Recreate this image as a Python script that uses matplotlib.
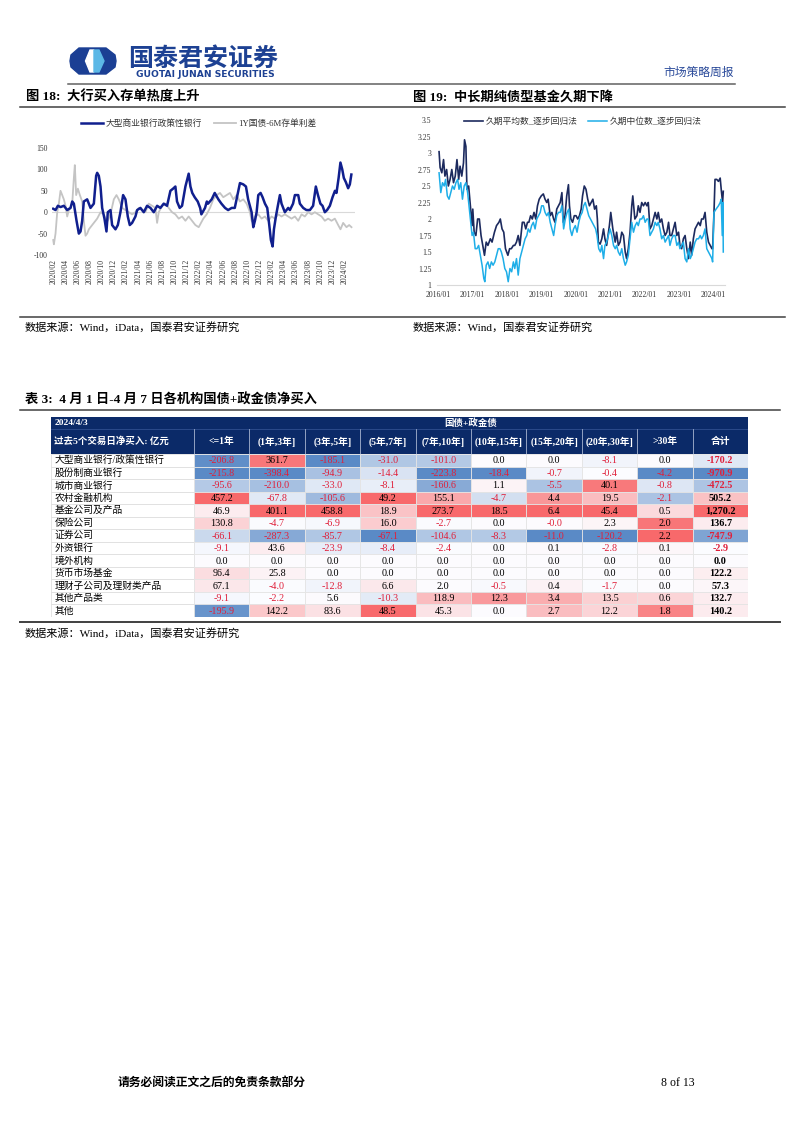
import numpy as np
import matplotlib
matplotlib.use("Agg")
import matplotlib.pyplot as plt
from matplotlib.patches import Rectangle, Polygon
from matplotlib.colors import LinearSegmentedColormap, TwoSlopeNorm
from matplotlib.ticker import FuncFormatter

W, H = 802, 1133
FONT = ["Liberation Serif", "Noto Sans CJK SC"]
plt.rcParams["font.family"] = FONT
plt.rcParams["axes.unicode_minus"] = False

# ---------------- chart 18 data (months since 2020/02) ----------------
big_bank_m = [0, 0.38, 0.77, 1.2, 1.75, 2.3, 2.85, 3.13, 3.4, 3.84, 4.22, 4.5, 4.77, 5.04, 5.59,
              6.14, 6.69, 7.07, 7.24, 7.51, 7.79, 8.06, 8.44, 8.77, 8.99, 9.43, 9.7, 10.25, 10.64,
              11.07, 11.51, 11.9, 12.28, 12.61, 12.99, 13.54, 13.82, 14.36, 14.91, 15.46, 16.01,
              16.56, 17.11, 17.65, 18.2, 18.75, 19.3, 19.74, 20.12, 20.39, 20.83, 21.22, 21.77,
              22.31, 22.6, 22.9, 23.3, 23.8, 24.2, 24.4, 25.0, 25.3, 25.5, 26.1, 26.6, 27.2, 27.7,
              28.3, 28.8, 29.4, 29.9, 30.75, 31.3, 31.74, 32.1, 32.67, 32.95, 33.22, 33.5, 33.77,
              34.15, 34.48, 34.87, 35.25, 35.58, 35.85, 36.13, 36.35, 36.67, 37.06, 37.33, 37.6,
              38.15, 38.7, 38.98, 39.5, 39.8, 40.35, 40.62, 41.17, 41.7, 42.27, 42.8, 43.25, 43.6,
              44.0, 44.35, 44.73, 45.1, 45.56, 46.0, 46.4, 46.65, 47.0, 47.3, 47.6, 47.86, 48.2,
              48.57, 48.85, 49.1]
big_bank_v = [8, 5, 15, 12, 15, 5, 10, 25, 20, -20, -50, -45, -20, 25, 30, 10, 20, 85, 92, 85, 60,
              10, -15, -45, 0, 5, -30, -40, -30, 0, 40, 30, -10, -30, -25, -10, 5, 10, 0, 15, 10,
              0, 15, 10, 20, 15, 50, 55, 60, 25, 10, 15, 60, 90, 60, 45, 35, 25, 10, -5, 10, 25,
              20, 30, 45, 30, 20, 10, 5, 10, 10, 68, 65, 60, 30, 0, -35, -20, 0, 40, 45, 35, 20,
              10, -30, -65, -80, -40, -10, 20, 40, 20, 0, 10, 5, 20, 40, 40, 20, 10, 5, 5, 15, 60,
              40, 20, 15, 0, 5, 15, 35, 50, 45, 80, 116, 100, 80, 70, 56, 65, 88]
spread_m = [0, 0.11, 0.38, 0.66, 0.93, 1.2, 1.48, 1.75, 2.03, 2.3, 2.58, 2.85, 3.13, 3.4, 3.56,
            3.78, 4.06, 4.39, 4.77, 5.04, 5.32, 5.59, 5.87, 6.14, 6.69, 7.24, 7.79, 8.33, 8.61,
            8.99, 9.43, 9.98, 10.42, 10.8, 11.35, 11.9, 12.45, 12.99, 13.54, 14.09, 14.64, 15.19,
            15.73, 16.28, 16.83, 17.11, 17.38, 17.93, 18.48, 19.02, 19.57, 20.12, 20.67, 21.22,
            21.77, 22.31, 22.86, 23.41, 23.96, 24.72, 25.27, 25.82, 26.37, 26.92, 27.46, 28.01,
            28.56, 29.11, 29.66, 30.21, 30.75, 31.3, 31.85, 32.4, 32.67, 32.95, 33.22, 33.77,
            34.32, 34.87, 35.41, 35.96, 36.51, 37.06, 37.6, 38.15, 38.7, 39.25, 39.8, 40.35,
            40.9, 41.44, 41.99, 42.54, 43.09, 43.64, 44.19, 44.73, 45.28, 45.83, 46.38, 46.93,
            47.31, 47.75, 48.3, 48.74, 49.12]
spread_v = [-65, -75, -50, 0, 20, 50, 40, 30, 15, -10, 5, 10, 20, 80, 110, 40, 55, 40, 25, -20,
            -55, -50, -40, -35, -25, -15, 0, -5, -15, -20, -5, 30, 40, 30, 10, 5, 0, -5, 0, 10, 5,
            0, 20, 15, 10, -25, 0, 15, 20, 10, 0, -5, -15, -10, -20, -10, -20, -30, -35, -15, -5,
            10, 30, 40, 45, 35, 40, 45, 30, 40, 25, 30, 20, 0, -20, -25, -10, -5, -15, -10, -20,
            -10, -15, -5, -10, -5, -10, -15, -10, -20, -5, -10, 0, -5, 0, -5, -10, -20, -15, -20,
            -15, -30, -40, -25, -35, -30, -35]
month_ticks = ["2020/02", "2020/04", "2020/06", "2020/08", "2020/10", "2020/12", "2021/02",
               "2021/04", "2021/06", "2021/08", "2021/10", "2021/12", "2022/02", "2022/04",
               "2022/06", "2022/08", "2022/10", "2022/12", "2023/02", "2023/04", "2023/06",
               "2023/08", "2023/10", "2023/12", "2024/02"]

# ---------------- chart 19 data (decimal years) ----------------
mean_t = [2016.03, 2016.06, 2016.11, 2016.16, 2016.20, 2016.25, 2016.30, 2016.35, 2016.40,
          2016.45, 2016.50, 2016.55, 2016.60, 2016.64, 2016.69, 2016.74, 2016.77, 2016.81,
          2016.84, 2016.89, 2016.94, 2016.99, 2017.01, 2017.05, 2017.10, 2017.15, 2017.20,
          2017.25, 2017.30, 2017.35, 2017.40, 2017.45, 2017.52, 2017.57, 2017.64, 2017.70,
          2017.77, 2017.81, 2017.86, 2017.91, 2017.96, 2018.03, 2018.08, 2018.13, 2018.19,
          2018.23, 2018.28, 2018.33, 2018.38, 2018.45, 2018.50, 2018.55, 2018.60, 2018.64,
          2018.69, 2018.74, 2018.79, 2018.84, 2018.89, 2018.94, 2019.00, 2019.06, 2019.11,
          2019.16, 2019.20, 2019.26, 2019.31, 2019.36, 2019.40, 2019.45, 2019.50, 2019.55,
          2019.60, 2019.64, 2019.69, 2019.74, 2019.79, 2019.82, 2019.86, 2019.91, 2019.96,
          2020.01, 2020.06, 2020.11, 2020.16, 2020.20, 2020.25, 2020.30, 2020.35, 2020.40,
          2020.45, 2020.50, 2020.55, 2020.60, 2020.63, 2020.66, 2020.71, 2020.76, 2020.81,
          2020.85, 2020.90, 2020.98, 2021.02, 2021.08, 2021.15, 2021.19, 2021.24, 2021.29,
          2021.34, 2021.39, 2021.44, 2021.48, 2021.53, 2021.58, 2021.63, 2021.66, 2021.72,
          2021.78, 2021.82, 2021.87, 2021.92, 2021.97, 2022.02, 2022.07, 2022.11, 2022.16,
          2022.21, 2022.26, 2022.31, 2022.36, 2022.40, 2022.45, 2022.50, 2022.55, 2022.60,
          2022.65, 2022.70, 2022.74, 2022.79, 2022.84, 2022.89, 2022.94, 2022.99, 2023.03,
          2023.08, 2023.13, 2023.18, 2023.23, 2023.28, 2023.33, 2023.37, 2023.42, 2023.47,
          2023.52, 2023.57, 2023.62, 2023.66, 2023.71, 2023.76, 2023.81, 2023.86, 2023.91,
          2023.96, 2023.98, 2024.02, 2024.05, 2024.10, 2024.15, 2024.20, 2024.23, 2024.27,
          2024.29]
mean_v = [3.02, 2.78, 2.7, 2.9, 2.65, 2.75, 2.5, 2.6, 2.75, 2.55, 2.65, 2.9, 2.6, 2.8, 2.65,
          2.85, 3.2, 3.1, 2.45, 2.5, 2.2, 1.9, 2.15, 1.8, 1.75, 2.0, 2.0, 1.75, 1.6, 1.45, 1.65,
          1.6, 1.7, 1.65, 1.8, 1.9, 1.95, 2.0, 1.85, 1.8, 1.55, 1.45, 1.55, 1.55, 1.6, 1.6, 1.65,
          1.75, 1.6, 1.95, 1.95, 1.85, 1.95, 1.95, 2.05, 2.0, 2.1, 2.0, 2.2, 2.3, 2.35, 2.38,
          2.3, 2.25, 2.3, 2.05, 2.1, 2.0, 1.95, 2.15, 2.2, 2.25, 2.4, 1.95, 2.05, 2.35, 2.52,
          2.2, 2.0, 1.95, 2.05, 2.05, 2.0, 2.05, 2.15, 2.35, 2.5, 2.45, 2.3, 2.2, 2.25, 2.3,
          2.15, 2.2, 2.0, 1.65, 1.62, 1.7, 1.85, 1.7, 1.6, 1.9, 2.1, 1.85, 1.65, 1.8, 1.6, 1.65,
          1.8, 1.75, 1.5, 1.4, 1.55, 1.8, 2.2, 2.35, 2.0, 2.05, 2.2, 2.1, 2.25, 2.2, 2.25, 2.2,
          2.25, 1.85, 1.9, 2.0, 2.1, 2.0, 2.1, 1.95, 2.0, 1.85, 1.75, 1.8, 1.95, 1.75, 1.75,
          1.85, 1.95, 1.75, 1.8, 1.6, 1.55, 1.7, 1.75, 1.55, 1.4, 1.65, 1.45, 1.7, 1.85, 1.9,
          1.95, 1.9, 2.0, 2.0, 2.1, 1.8, 1.65, 1.6, 1.55, 1.55, 2.1, 2.6, 2.6, 2.57, 2.62, 2.45,
          2.25, 2.42]
median_t = [2016.03, 2016.08, 2016.13, 2016.18, 2016.22, 2016.27, 2016.32, 2016.37, 2016.42,
            2016.47, 2016.52, 2016.57, 2016.61, 2016.66, 2016.71, 2016.76, 2016.81, 2016.86,
            2016.91, 2016.96, 2016.99, 2017.03, 2017.08, 2017.13, 2017.18, 2017.23, 2017.28,
            2017.33, 2017.36, 2017.40, 2017.45, 2017.50, 2017.55, 2017.60, 2017.65, 2017.70,
            2017.75, 2017.80, 2017.84, 2017.89, 2017.94, 2017.99, 2018.04, 2018.09, 2018.14,
            2018.19, 2018.23, 2018.28, 2018.33, 2018.38, 2018.43, 2018.48, 2018.53, 2018.58,
            2018.62, 2018.67, 2018.72, 2018.77, 2018.82, 2018.87, 2018.92, 2018.97, 2019.01,
            2019.06, 2019.11, 2019.16, 2019.21, 2019.26, 2019.31, 2019.36, 2019.40, 2019.45,
            2019.50, 2019.55, 2019.60, 2019.65, 2019.70, 2019.75, 2019.80, 2019.84, 2019.89,
            2019.94, 2019.99, 2020.04, 2020.09, 2020.14, 2020.19, 2020.23, 2020.28, 2020.33,
            2020.38, 2020.43, 2020.48, 2020.53, 2020.58, 2020.62, 2020.67, 2020.72, 2020.76,
            2020.81, 2020.85, 2020.90, 2020.95, 2021.00, 2021.05, 2021.10, 2021.15, 2021.19,
            2021.24, 2021.29, 2021.34, 2021.39, 2021.44, 2021.48, 2021.53, 2021.58, 2021.63,
            2021.68, 2021.73, 2021.78, 2021.82, 2021.87, 2021.92, 2021.97, 2022.02, 2022.07,
            2022.11, 2022.16, 2022.21, 2022.26, 2022.31, 2022.36, 2022.40, 2022.45, 2022.50,
            2022.55, 2022.60, 2022.65, 2022.70, 2022.74, 2022.79, 2022.84, 2022.89, 2022.94,
            2022.99, 2023.03, 2023.08, 2023.13, 2023.18, 2023.23, 2023.28, 2023.33, 2023.37,
            2023.42, 2023.47, 2023.52, 2023.57, 2023.62, 2023.66, 2023.71, 2023.76, 2023.81,
            2023.86, 2023.91, 2023.96, 2023.98, 2024.02, 2024.08, 2024.15, 2024.20, 2024.23,
            2024.26, 2024.28, 2024.29]
median_v = [2.7, 2.4, 2.55, 2.5, 2.6, 2.35, 2.3, 2.4, 2.5, 2.45, 2.55, 2.6, 2.45, 2.55, 2.3,
            2.5, 2.55, 2.4, 2.15, 1.9, 1.75, 1.8, 1.55, 1.55, 1.6, 1.45, 1.3, 1.1, 1.05, 1.3,
            1.35, 1.25, 1.35, 1.3, 1.35, 1.45, 1.55, 1.55, 1.5, 1.4, 1.25, 1.2, 1.05, 1.25, 1.2,
            1.35, 1.25, 1.4, 1.15, 1.4, 1.5, 1.6, 1.7, 1.75, 1.85, 1.8, 1.9, 1.95, 1.85, 2.0,
            2.05, 2.1, 2.2, 2.2, 2.1, 2.05, 2.1, 1.95, 1.85, 1.75, 1.9, 2.05, 2.1, 2.1, 2.2,
            1.85, 2.0, 2.1, 2.15, 1.85, 1.75, 1.85, 1.9, 1.8, 1.95, 2.05, 2.1, 2.2, 2.25, 2.15,
            2.05, 2.0, 1.95, 1.9, 1.85, 1.75, 1.55, 1.5, 1.6, 1.4, 1.6, 1.65, 1.75, 1.85, 1.75,
            1.6, 1.55, 1.6, 1.5, 1.45, 1.55, 1.4, 1.3, 1.35, 1.45, 1.7, 1.95, 1.8, 1.9, 1.95,
            1.9, 2.0, 2.0, 2.05, 1.95, 2.0, 2.0, 1.75, 1.8, 1.85, 1.95, 1.9, 1.95, 1.85, 1.7,
            1.75, 1.65, 1.7, 1.75, 1.6, 1.7, 1.75, 1.75, 1.6, 1.65, 1.55, 1.6, 1.65, 1.4, 1.35,
            1.55, 1.4, 1.45, 1.55, 1.65, 1.7, 1.7, 1.75, 1.7, 1.75, 1.85, 1.55, 1.5, 1.45, 1.4,
            1.35, 2.1, 2.15, 2.2, 2.25, 2.3, 1.75, 2.25, 1.5]
year_ticks = [2016, 2017, 2018, 2019, 2020, 2021, 2022, 2023, 2024]
year_labels = ["2016/01", "2017/01", "2018/01", "2019/01", "2020/01", "2021/01", "2022/01",
               "2023/01", "2024/01"]

# ---------------- table 3 data ----------------
institutions = ["大型商业银行/政策性银行", "股份制商业银行", "城市商业银行", "农村金融机构",
                "基金公司及产品", "保险公司", "证券公司", "外资银行", "境外机构", "货币市场基金",
                "理财子公司及理财类产品", "其他产品类", "其他"]
buckets = ["<=1年", "(1年,3年]", "(3年,5年]", "(5年,7年]", "(7年,10年]", "(10年,15年]",
           "(15年,20年]", "(20年,30年]", ">30年", "合计"]
v_le1 = [-206.8, -215.8, -95.6, 457.2, 46.9, 130.8, -66.1, -9.1, 0.0, 96.4, 67.1, -9.1, -195.9]
v_1_3 = [361.7, -398.4, -210.0, -67.8, 401.1, -4.7, -287.3, 43.6, 0.0, 25.8, -4.0, -2.2, 142.2]
v_3_5 = [-185.1, -94.9, -33.0, -105.6, 458.8, -6.9, -85.7, -23.9, 0.0, 0.0, -12.8, 5.6, 83.6]
v_5_7 = [-31.0, -14.4, -8.1, 49.2, 18.9, 16.0, -67.1, -8.4, 0.0, 0.0, 6.6, -10.3, 48.5]
v_7_10 = [-101.0, -223.8, -160.6, 155.1, 273.7, -2.7, -104.6, -2.4, 0.0, 0.0, 2.0, 118.9, 45.3]
v_10_15 = [0.0, -18.4, 1.1, -4.7, 18.5, 0.0, -8.3, 0.0, 0.0, 0.0, -0.5, 12.3, 0.0]
v_15_20 = [0.0, -0.7, -5.5, 4.4, 6.4, -0.0, -11.0, 0.1, 0.0, 0.0, 0.4, 3.4, 2.7]
v_20_30 = [-8.1, -0.4, 40.1, 19.5, 45.4, 2.3, -120.2, -2.8, 0.0, 0.0, -1.7, 13.5, 12.2]
v_gt30 = [0.0, -4.2, -0.8, -2.1, 0.5, 2.0, 2.2, 0.1, 0.0, 0.0, 0.0, 0.6, 1.8]
v_total = [-170.2, -970.9, -472.5, 505.2, 1270.2, 136.7, -747.9, -2.9, 0.0, 122.2, 57.3, 132.7, 140.2]
columns = [v_le1, v_1_3, v_3_5, v_5_7, v_7_10, v_10_15, v_15_20, v_20_30, v_gt30, v_total]

NAVY = "#0b2a68"
INK = "#1d4193"
NEG_RED = "#e0203a"


def box(x0, y0, x1, y1):
    # pixel rectangle (top-left origin) -> figure fraction
    return [x0 / W, 1 - y1 / H, (x1 - x0) / W, (y1 - y0) / H]


fig = plt.figure(figsize=(W / 100, H / 100), dpi=100)
page = fig.add_axes([0, 0, 1, 1])
page.set_xlim(0, W)
page.set_ylim(H, 0)
page.axis("off")

# --- page header (logo drawn roughly) ---
page.add_patch(Polygon([(79, 48), (106, 48), (115, 55), (116, 61), (115, 67), (106, 74),
                        (79, 74), (71, 67), (70, 61), (71, 55)], closed=True, color="#1b3f94"))
page.add_patch(Polygon([(90, 50), (94, 50), (94, 72), (90, 72), (85.5, 61)], closed=True,
                       color="white"))
page.add_patch(Polygon([(94, 50), (99, 50), (104, 61), (99, 72), (94, 72)], closed=True,
                       color="#5cb8e6"))
page.text(203, 59, "国泰君安证券", fontsize=18, fontweight="bold", color=INK,
          ha="center", va="center", family=["Noto Sans CJK SC"])
page.text(205, 74.5, "GUOTAI JUNAN SECURITIES", fontsize=6.6, fontweight="bold", color=INK,
          ha="center", va="center", family=["DejaVu Sans"])
page.text(734, 73, "市场策略周报", fontsize=8.5, color="#2a4a9a", ha="right", va="center")
page.plot([68, 735], [83.5, 83.5], color="#606060", lw=1.1)

# --- section titles and rules ---
page.text(26, 97, "图 18:  大行买入存单热度上升", fontsize=9.5, fontweight="bold", va="center")
page.text(413, 97, "图 19:  中长期纯债型基金久期下降", fontsize=9.5, fontweight="bold", va="center")
page.plot([20, 785], [106.5, 106.5], color="#404040", lw=1.1)
page.plot([20, 785], [316.5, 316.5], color="#404040", lw=1.1)
page.text(25, 327, "数据来源：Wind，iData，国泰君安证券研究", fontsize=8, va="center")
page.text(413, 327, "数据来源：Wind，国泰君安证券研究", fontsize=8, va="center")

page.text(25, 400, "表 3:  4 月 1 日-4 月 7 日各机构国债+政金债净买入", fontsize=9.5,
          fontweight="bold", va="center")
page.plot([20, 780], [410, 410], color="#404040", lw=1.1)
page.plot([20, 780], [622, 622], color="#404040", lw=1.4)
page.text(25, 633, "数据来源：Wind，iData，国泰君安证券研究", fontsize=8, va="center")

page.text(118, 1083, "请务必阅读正文之后的免责条款部分", fontsize=8.5, fontweight="bold",
          va="center")
page.text(695, 1083, "8 of 13", fontsize=8.5, va="center", ha="right")

# --- chart 18 ---
ax1 = fig.add_axes(box(52, 148, 355, 255))
ax1.axhline(0, color="#d9d9d9", lw=0.8, zorder=1)
ax1.plot(spread_m, spread_v, color="#c4c4c4", lw=1.3, label="1Y国债-6M存单利差", zorder=2)
ax1.plot(big_bank_m, big_bank_v, color="#101f8e", lw=1.8, label="大型商业银行政策性银行", zorder=3)
ax1.set_xlim(-0.2, 49.7)
ax1.set_ylim(-100, 150)
ax1.set_yticks(range(-100, 151, 50))
ax1.set_xticks(range(0, 49, 2))
ax1.set_xticklabels(month_ticks, rotation=90)
ax1.tick_params(length=0, labelsize=5.5, colors="#333333", pad=3)
for s in ax1.spines.values():
    s.set_visible(False)
h1, l1 = ax1.get_legend_handles_labels()
fig.legend(h1[::-1], l1[::-1], loc="center left", bbox_to_anchor=(73 / W, 1 - 124 / H),
           ncol=2, frameon=False, fontsize=6.3, handlelength=2.5, handletextpad=0.3,
           columnspacing=1.4, labelcolor="#333333")

# --- chart 19 ---
ax2 = fig.add_axes(box(437, 120, 725, 285))
ax2.plot(mean_t, mean_v, color="#1c2a5e", lw=1.2, label="久期平均数_逐步回归法")
ax2.plot(median_t, median_v, color="#1eaee8", lw=1.1, label="久期中位数_逐步回归法")
ax2.set_xlim(2015.97, 2024.34)
ax2.set_ylim(1, 3.5)
ax2.set_yticks(np.arange(1, 3.51, 0.25))
ax2.yaxis.set_major_formatter(FuncFormatter(lambda v, _: f"{v:g}"))
ax2.set_xticks(year_ticks)
ax2.set_xticklabels(year_labels)
ax2.tick_params(length=0, labelsize=5.5, colors="#333333", pad=4)
for side in ["top", "right", "left"]:
    ax2.spines[side].set_visible(False)
ax2.spines["bottom"].set_color("#d9d9d9")
ax2.legend(loc="center left", bbox_to_anchor=(456 / W, 1 - 122 / H),
           bbox_transform=fig.transFigure, ncol=2, frameon=False, fontsize=6.3,
           handlelength=2.2, handletextpad=0.3, columnspacing=1.2, labelcolor="#333333")

# --- table 3 ---
n_rows, n_cols = len(institutions), len(buckets)
lab_w = (194 - 51) / 55.4
hdr1, hdr2 = 0.96, 1.99
tb = fig.add_axes(box(51, 417, 748, 617))
tb.set_xlim(-lab_w, n_cols)
tb.set_ylim(n_rows, -(hdr1 + hdr2))
tb.axis("off")

cmap = LinearSegmentedColormap.from_list("excel3", ["#5A8AC6", "#FCFCFF", "#F8696B"])

tb.add_patch(Rectangle((-lab_w, -(hdr1 + hdr2)), lab_w + n_cols, hdr1 + hdr2,
                       facecolor=NAVY, edgecolor="none"))
tb.plot([-lab_w, n_cols], [-hdr2, -hdr2], color="#2f4f8f", lw=0.6)
for j in range(n_cols + 1):
    tb.plot([j, j], [-hdr2, 0], color="#c8d2e6", lw=0.5)
tb.text(-lab_w + 0.06, -hdr2 - hdr1 / 2, "2024/4/3", color="white", fontsize=6.8,
        fontweight="bold", va="center")
tb.text(n_cols / 2, -hdr2 - hdr1 / 2, "国债+政金债", color="white", fontsize=6.8,
        fontweight="bold", va="center", ha="center")
tb.text(-lab_w + 0.06, -hdr2 / 2, "过去5个交易日净买入: 亿元", color="white", fontsize=6.8,
        fontweight="bold", va="center")
for j, name in enumerate(buckets):
    tb.text(j + 0.5, -hdr2 / 2, name, color="white", fontsize=7, fontweight="bold",
            ha="center", va="center")

for i, name in enumerate(institutions):
    tb.add_patch(Rectangle((-lab_w, i), lab_w, 1, facecolor="white", edgecolor="#dadada", lw=0.5))
    tb.text(-lab_w + 0.06, i + 0.52, name, fontsize=7, va="center", color="black")

for j, col in enumerate(columns):
    norm = TwoSlopeNorm(vmin=min(col), vcenter=0.0, vmax=max(col))
    for i, v in enumerate(col):
        tb.add_patch(Rectangle((j, i), 1, 1, facecolor=cmap(norm(v)), edgecolor="#e4e4e4",
                               lw=0.6))
        neg = bool(np.signbit(v))
        tb.text(j + 0.5, i + 0.55, f"{v:,.1f}", fontsize=7.3, ha="center", va="center",
                color=NEG_RED if neg else "black",
                fontweight="bold" if j == n_cols - 1 else "normal")

fig.savefig("out.png", dpi=100)
